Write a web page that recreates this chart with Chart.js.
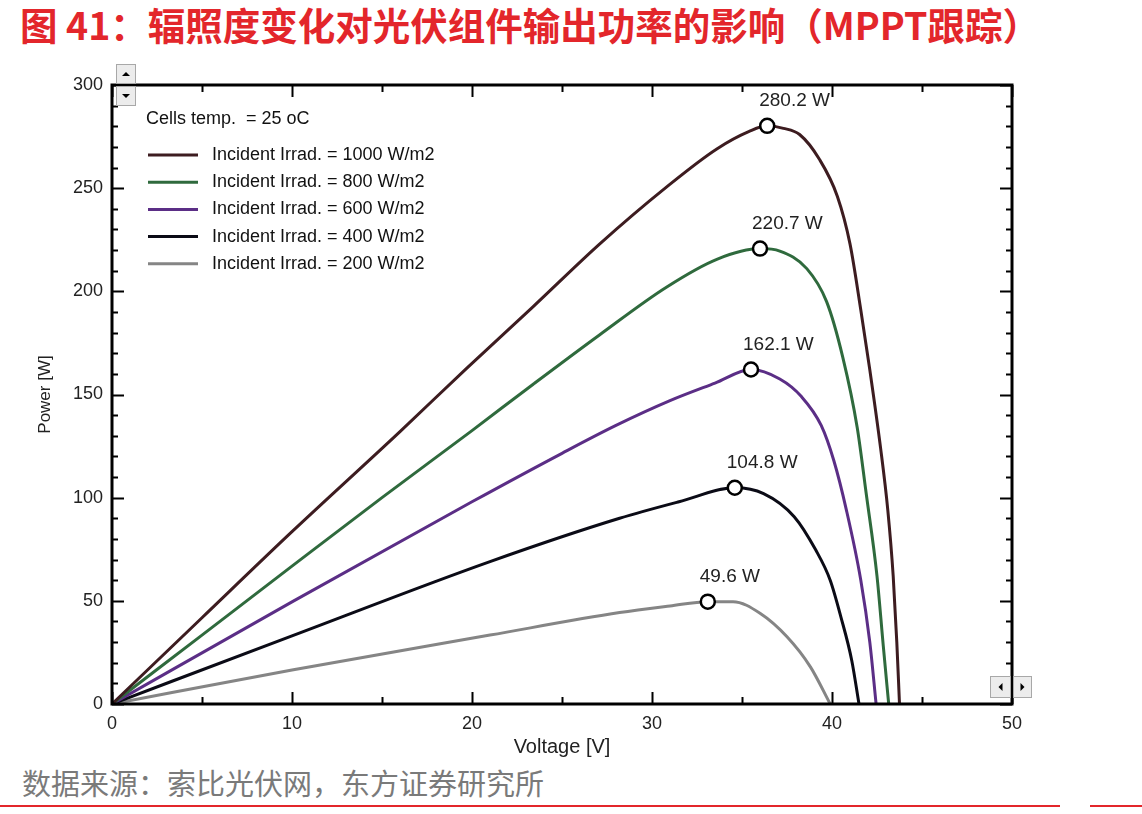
<!DOCTYPE html>
<html>
<head>
<meta charset="utf-8">
<script src="https://cdn.jsdelivr.net/npm/chart.js@4.4.0/dist/chart.umd.min.js"></script>
<style>
  html, body { margin: 0; padding: 0; background: #fff; }
  #wrap { position: relative; width: 1142px; height: 814px; overflow: hidden; background: #fff; }
  #title { position: absolute; left: 20px; top: -4px; font: bold 37.5px "Noto Sans CJK SC"; color: #e3262b; white-space: nowrap; }
  #source { position: absolute; left: 22px; top: 761px; font: 29px "Noto Sans CJK SC"; color: #7a7a7a; white-space: nowrap; }
  #rule1 { position: absolute; left: 0; top: 805px; width: 1060px; height: 2px; background: #e3262b; }
  #rule2 { position: absolute; left: 1090px; top: 805px; width: 52px; height: 2px; background: #e3262b; }
  canvas { position: absolute; left: 0; top: 0; }
</style>
</head>
<body>
<div id="wrap">
  <div id="title">图 41：辐照度变化对光伏组件输出功率的影响（MPPT跟踪）</div>
  <canvas id="grafico" width="1142" height="757"></canvas>
  <div id="source">数据来源：索比光伏网，东方证券研究所</div>
  <div id="rule1"></div>
  <div id="rule2"></div>
</div>
<script>
// curves: voltage [V] / power [W]
const v1000 = [0, 5, 10, 16, 19.7, 23.4, 27.1, 30.8, 33.6, 35.4, 36.4, 37.3, 38.2, 39.3, 40.3, 41.0, 41.6, 42.1, 42.7, 43.1, 43.4, 43.6, 43.75];
const p1000 = [0, 41.8, 83.5, 132, 162.7, 192.6, 223, 250.5, 269, 277.5, 280.2, 279, 276, 264, 246, 223, 191, 162, 124, 94, 62, 30, 0];

const v800 = [0, 5, 10, 15, 20, 23.4, 27.1, 30.8, 33.6, 36.0, 37.1, 38.6, 39.7, 40.6, 41.4, 41.9, 42.5, 42.85, 43.15];
const p800 = [0, 33.4, 66.8, 100, 132.5, 155, 179, 202, 215.5, 220.7, 219.5, 211, 195, 168, 134, 102, 62, 28, 0];

const v600 = [0, 10, 20, 25, 28, 31, 33.5, 35.5, 37.1, 38.3, 39.4, 40.1, 40.8, 41.6, 42.1, 42.45];
const p600 = [0, 49.5, 98, 121.5, 135, 147, 155.5, 162.1, 157.5, 149, 135, 118, 94, 60, 30, 0];

const v400 = [0, 10, 21, 28.2, 31.5, 34.6, 36.2, 37.9, 39.1, 39.9, 40.5, 41.1, 41.5];
const p400 = [0, 33, 69, 90, 98, 104.8, 102, 90.8, 74.6, 60, 42, 21, 0];

const v200 = [0, 10, 21, 28.2, 31, 33.1, 34.5, 36, 37.5, 38.8, 39.9];
const p200 = [0, 16.5, 33.4, 44.3, 47.5, 49.6, 49.6, 44, 32.6, 18, 0];

// maximum power points
const mppV = [36.4, 36.0, 35.5, 34.6, 33.1];
const mppP = [280.2, 220.7, 162.1, 104.8, 49.6];
const mppText = ["280.2 W", "220.7 W", "162.1 W", "104.8 W", "49.6 W"];

const seriesNames = [
  "Incident Irrad. = 1000 W/m2",
  "Incident Irrad. = 800 W/m2",
  "Incident Irrad. = 600 W/m2",
  "Incident Irrad. = 400 W/m2",
  "Incident Irrad. = 200 W/m2"
];
const seriesColors = ["#3d1c20", "#2f6a3d", "#5b2e86", "#0b0b16", "#858585"];
const noteText = "Cells temp.  = 25 oC";

const xTicks = [0, 10, 20, 30, 40, 50];
const yTicks = [0, 50, 100, 150, 200, 250, 300];

const toPoints = (xs, ys) => xs.map((x, i) => ({ x: x, y: ys[i] }));
const curves = [[v1000, p1000], [v800, p800], [v600, p600], [v400, p400], [v200, p200]];

const datasets = curves.map((c, i) => ({
  label: seriesNames[i],
  data: toPoints(c[0], c[1]),
  showLine: true,
  borderColor: seriesColors[i],
  borderWidth: 3,
  pointRadius: 0,
  cubicInterpolationMode: "monotone"
}));
datasets.push({
  label: "MPP",
  data: toPoints(mppV, mppP),
  showLine: false,
  pointRadius: 7,
  pointBorderWidth: 2.5,
  pointBorderColor: "#000",
  pointBackgroundColor: "#fff",
  order: -1
});

const FONT = "Liberation Sans";

const decor = {
  id: "decor",
  afterDraw(chart) {
    const ctx = chart.ctx;
    const a = chart.chartArea;
    const sx = chart.scales.x, sy = chart.scales.y;
    ctx.save();

    // frame
    ctx.strokeStyle = "#000";
    ctx.lineWidth = 3;
    ctx.strokeRect(a.left, a.top, a.right - a.left, a.bottom - a.top);

    // inward ticks on all four sides
    ctx.lineWidth = 2;
    ctx.beginPath();
    for (let v = 0; v <= 50; v += 5) {
      const px = Math.round(sx.getPixelForValue(v)) + 0.5;
      const len = v % 10 === 0 ? 12 : 7;
      ctx.moveTo(px, a.bottom); ctx.lineTo(px, a.bottom - len);
      ctx.moveTo(px, a.top); ctx.lineTo(px, a.top + len);
    }
    for (let v = 0; v <= 300; v += 10) {
      const py = Math.round(sy.getPixelForValue(v)) + 0.5;
      const len = v % 50 === 0 ? 12 : 6;
      ctx.moveTo(a.left, py); ctx.lineTo(a.left + len, py);
      ctx.moveTo(a.right, py); ctx.lineTo(a.right - len, py);
    }
    ctx.stroke();

    // legend inside the plot
    ctx.fillStyle = "#111";
    ctx.font = "18px '" + FONT + "'";
    ctx.textBaseline = "middle";
    ctx.textAlign = "left";
    ctx.fillText(noteText, a.left + 34, 119);
    for (let i = 0; i < 5; i++) {
      const y = 155 + i * 27.2;
      ctx.strokeStyle = seriesColors[i];
      ctx.lineWidth = 3;
      ctx.beginPath();
      ctx.moveTo(a.left + 36, y); ctx.lineTo(a.left + 86, y);
      ctx.stroke();
      ctx.fillText(seriesNames[i], a.left + 100, y);
    }

    // MPP labels
    ctx.font = "19px '" + FONT + "'";
    ctx.fillStyle = "#222";
    for (let i = 0; i < mppV.length; i++) {
      const px = sx.getPixelForValue(mppV[i]);
      const py = sy.getPixelForValue(mppP[i]);
      ctx.fillText(mppText[i], px - 8, py - 25);
    }

    // little scroll buttons of the original window
    const btn = (x, y, w, h, dir) => {
      ctx.fillStyle = "#ececec";
      ctx.fillRect(x, y, w, h);
      ctx.strokeStyle = "#a8a8a8";
      ctx.lineWidth = 1;
      ctx.strokeRect(x + 0.5, y + 0.5, w - 1, h - 1);
      ctx.fillStyle = "#000";
      ctx.beginPath();
      const cx = x + w / 2, cy = y + h / 2;
      if (dir === "up") { ctx.moveTo(cx - 4, cy + 2); ctx.lineTo(cx + 4, cy + 2); ctx.lineTo(cx, cy - 2); }
      if (dir === "down") { ctx.moveTo(cx - 4, cy - 2); ctx.lineTo(cx + 4, cy - 2); ctx.lineTo(cx, cy + 2); }
      if (dir === "left") { ctx.moveTo(cx + 2, cy - 4); ctx.lineTo(cx + 2, cy + 4); ctx.lineTo(cx - 2, cy); }
      if (dir === "right") { ctx.moveTo(cx - 2, cy - 4); ctx.lineTo(cx - 2, cy + 4); ctx.lineTo(cx + 2, cy); }
      ctx.closePath();
      ctx.fill();
    };
    btn(a.left + 4, a.top - 21, 20, 20, "up");
    btn(a.left + 4, a.top + 1, 20, 20, "down");
    btn(a.right - 22, a.bottom - 28, 21, 22, "left");
    btn(a.right + 1, a.bottom - 28, 19, 22, "right");

    ctx.restore();
  }
};

const ctx = document.getElementById("grafico").getContext("2d");
new Chart(ctx, {
  type: "scatter",
  data: { datasets: datasets },
  options: {
    responsive: false,
    animation: false,
    layout: { padding: { left: 0, top: 85, right: 130, bottom: 0 } },
    plugins: { legend: { display: false }, tooltip: { enabled: false } },
    scales: {
      x: {
        type: "linear",
        min: 0, max: 50,
        afterFit: (s) => { s.height = 53; },
        afterBuildTicks: (s) => { s.ticks = xTicks.map(v => ({ value: v })); },
        grid: { display: false, drawTicks: false },
        border: { display: false },
        ticks: { padding: 9, color: "#222", font: { family: FONT, size: 18 }, maxRotation: 0 },
        title: { display: true, text: "Voltage [V]", color: "#222", font: { family: FONT, size: 20 }, padding: { top: 0, bottom: -2 } }
      },
      y: {
        type: "linear",
        min: 0, max: 300,
        afterFit: (s) => { s.width = 112; },
        afterBuildTicks: (s) => { s.ticks = yTicks.map(v => ({ value: v })); },
        grid: { display: false, drawTicks: false },
        border: { display: false },
        ticks: { padding: 9, color: "#222", font: { family: FONT, size: 18 } },
        title: { display: true, text: "Power [W]", color: "#222", font: { family: FONT, size: 17 }, padding: { top: 35, bottom: 0 } }
      }
    }
  },
  plugins: [decor]
});
</script>
</body>
</html>
